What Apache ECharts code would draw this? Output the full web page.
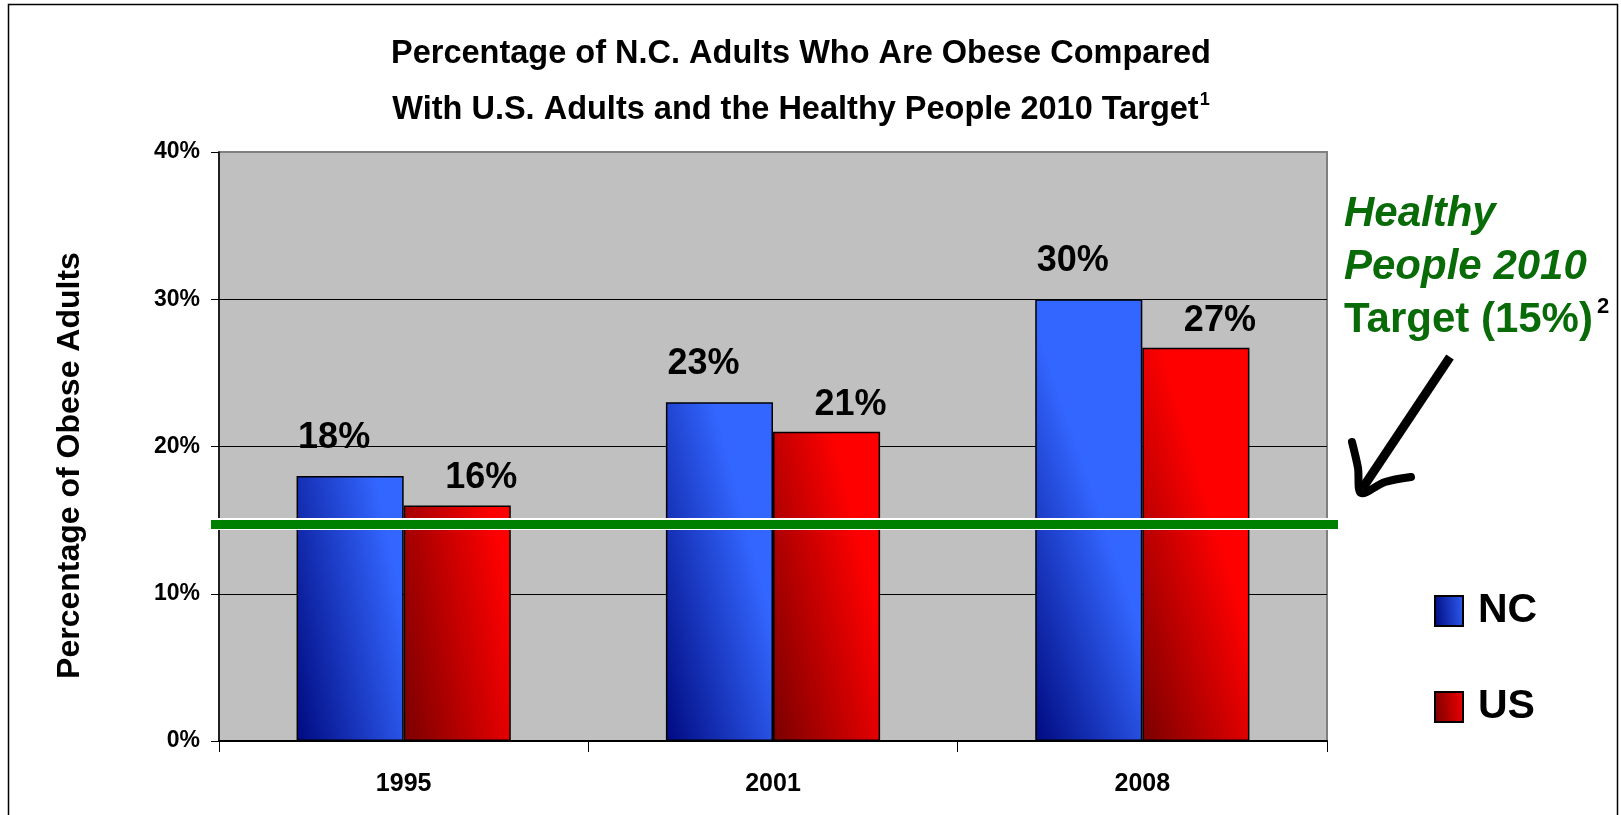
<!DOCTYPE html>
<html><head><meta charset="utf-8">
<script src="https://cdn.jsdelivr.net/npm/echarts@6/dist/echarts.min.js"></script>
<style>html,body{margin:0;padding:0;background:#fff}#c{width:1621px;height:815px}</style>
</head><body><div id="c"></div>
<script>
// ---- data ----
const categories = ['1995', '2001', '2008'];
const ncValues = [18.0, 23.0, 30.0];
const usValues = [16.0, 21.0, 26.7];
const targetLevel = 14.75;          // drawn level of the green target line
const yMin = 0, yMax = 40, yStep = 10;
const seriesNames = ['NC', 'US'];

const FONT = 'Liberation Sans, Arial, sans-serif';
const G = { left: 219, right: 294, top: 152, bottom: 74 };

const chart = echarts.init(document.getElementById('c'), null, { renderer: 'canvas' });

function grad(dark, light) {
  return new echarts.graphic.LinearGradient(0, 1, 1.2, 0.9, [
    { offset: 0, color: dark }, { offset: 1, color: light }
  ]);
}

const option = {
  backgroundColor: '#ffffff',
  animation: false,
  title: {
    text: '{t|Percentage of N.C. Adults Who Are Obese Compared}\n{t|With U.S. Adults and the Healthy People 2010 Target}{s|1}',
    left: 796, top: 21, textAlign: 'center',
    textStyle: {
      rich: {
        t: { fontFamily: FONT, fontWeight: 'bold', fontSize: 32.5, color: '#000', lineHeight: 56 },
        s: { fontFamily: FONT, fontWeight: 'bold', fontSize: 18, color: '#000', lineHeight: 56, padding: [0, 0, 20, 1] }
      }
    }
  },
  legend: {
    data: seriesNames,
    orient: 'vertical',
    left: 1429, top: 585,
    itemWidth: 28, itemHeight: 30, itemGap: 54,
    icon: 'rect',
    itemStyle: { borderColor: '#000', borderWidth: 2 },
    textStyle: { fontFamily: FONT, fontWeight: 'bold', fontSize: 41, color: '#000', lineHeight: 42, padding: [0, 0, 0, 10] }
  },
  grid: {
    left: G.left, right: G.right, top: G.top, bottom: G.bottom,
    show: true, backgroundColor: '#C0C0C0', borderColor: '#808080', borderWidth: 2,
    containLabel: false
  },
  xAxis: {
    type: 'category', data: categories,
    axisLine: { lineStyle: { color: '#000', width: 2 } },
    axisTick: { show: true, length: 11, lineStyle: { color: '#000', width: 1 } },
    axisLabel: { fontFamily: FONT, fontWeight: 'bold', fontSize: 25, color: '#000', margin: 31 }
  },
  yAxis: {
    type: 'value', min: yMin, max: yMax, interval: yStep,
    name: 'Percentage of Obese Adults', nameLocation: 'middle', nameGap: 133,
    nameTextStyle: { fontFamily: FONT, fontWeight: 'bold', fontSize: 32, color: '#000', padding: [0, 38, 0, 0] },
    axisLine: { show: true, lineStyle: { color: '#000', width: 1.5 } },
    axisTick: { show: true, length: 8, lineStyle: { color: '#000' } },
    axisLabel: { fontFamily: FONT, fontWeight: 'bold', fontSize: 23, color: '#000', margin: 19,
      formatter: v => v + '%' },
    splitLine: { show: true, lineStyle: { color: ['#000', '#000', '#000', '#000', 'rgba(0,0,0,0)'], width: 1 } }
  },
  series: [
    {
      name: seriesNames[0], type: 'bar', data: ncValues, clip: false,
      barGap: '0%', barCategoryGap: '42%',
      itemStyle: { color: grad('#000a80', '#3366ff'), borderColor: '#000', borderWidth: 1.5 },
      label: { show: true, position: 'top', distance: 20, offset: [-16, 0],
        fontFamily: FONT, fontWeight: 'bold', fontSize: 36, lineHeight: 36, color: '#000',
        formatter: p => Math.round(p.value) + '%' },
      markLine: {
        silent: true, symbol: 'none', z: 10,
        label: { show: false },
        data: [
          [{ yAxis: targetLevel, x: 211, lineStyle: { color: '#ffffff', width: 12, type: 'solid' } },
           { yAxis: targetLevel, x: 1338 }],
          [{ yAxis: targetLevel, x: 211, lineStyle: { color: '#008000', width: 9, type: 'solid' } },
           { yAxis: targetLevel, x: 1338 }]
        ]
      }
    },
    {
      name: seriesNames[1], type: 'bar', data: usValues,
      itemStyle: { color: grad('#7a0000', '#ff0000'), borderColor: '#000', borderWidth: 1.5 },
      label: { show: true, position: 'top', distance: 9, offset: [24, 0],
        fontFamily: FONT, fontWeight: 'bold', fontSize: 36, lineHeight: 36, color: '#000',
        formatter: p => Math.round(p.value) + '%' }
    }
  ],
  graphic: [
    { type: 'rect', z: 100, silent: true,
      shape: { x: 8.5, y: 4.5, width: 1609, height: 830 },
      style: { fill: 'none', stroke: '#000', lineWidth: 1.5 } },
    { type: 'text', left: 1344, top: 193, z: 100, silent: true,
      style: {
        text: '{i|Healthy}\n{i|People 2010}\n{b|Target (15%)}{s|2}',
        rich: {
          i: { fontFamily: FONT, fontWeight: 'bold', fontStyle: 'italic', fontSize: 42, lineHeight: 53, fill: '#086b08' },
          b: { fontFamily: FONT, fontWeight: 'bold', fontSize: 42, lineHeight: 53, fill: '#086b08' },
          s: { fontFamily: FONT, fontWeight: 'bold', fontSize: 22, lineHeight: 53, fill: '#000', padding: [0, 0, 26, 4] }
        }
      } },
    { type: 'polyline', z: 100, silent: true,
      shape: { points: [[1450, 357], [1362, 489]] },
      style: { stroke: '#000', lineWidth: 9, fill: null, lineCap: 'butt' } },
    { type: 'polyline', z: 100, silent: true,
      shape: { points: [[1352, 442], [1358, 468], [1361, 493], [1385, 482], [1411, 477]], smooth: 0.3 },
      style: { stroke: '#000', lineWidth: 8, fill: null, lineJoin: 'round', lineCap: 'round' } }
  ]
};
chart.setOption(option);
</script>
</body></html>
